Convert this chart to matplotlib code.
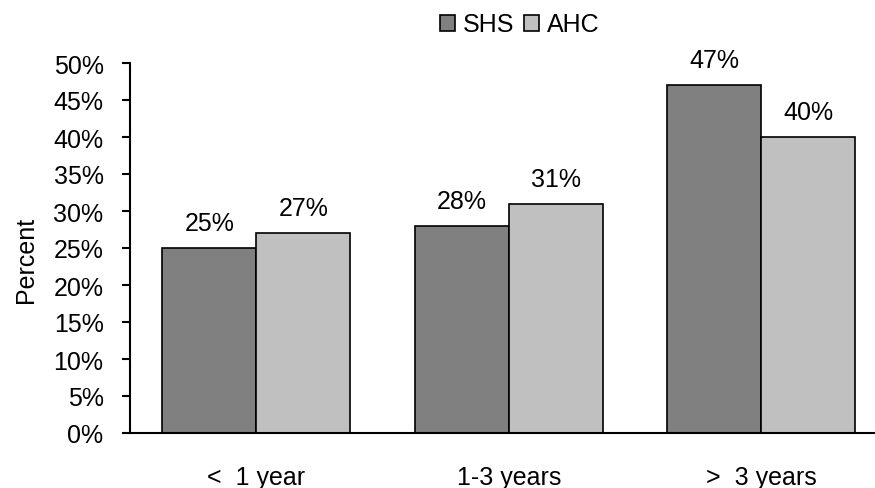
import matplotlib.pyplot as plt
import numpy as np
from matplotlib.patches import Patch

categories = ['<  1 year', '1-3 years', '>  3 years']
shs = [25, 28, 47]
ahc = [27, 31, 40]
series_names = ['SHS', 'AHC']
colors = ['#808080', '#c0c0c0']

plt.rcParams['font.family'] = ['Liberation Sans', 'DejaVu Sans']
plt.rcParams['font.size'] = 18

fig = plt.figure(figsize=(8.75, 4.89), dpi=100)
# оси: слева 130 px, справа до края, 0% на 434 px, 50% на 64 px
ax = fig.add_axes([130 / 875, 1 - 434 / 489, 745 / 875, 370 / 489])

x = np.arange(len(categories))
w = 0.372
for vals, off, col in [(shs, -w / 2, colors[0]), (ahc, w / 2, colors[1])]:
    bars = ax.bar(x + off, vals, width=w, color=col, edgecolor='black', linewidth=1.2)
    for b, v in zip(bars, vals):
        ax.annotate(f'{v}%', (b.get_x() + b.get_width() / 2, v), xytext=(0, 13),
                    textcoords='offset points', ha='center', va='baseline')

ax.set_xlim(-0.5, 2.45)
ax.set_ylim(0, 50)
ax.set_yticks(range(0, 51, 5))
ax.set_yticklabels([f'{t}%' for t in range(0, 51, 5)])
ax.set_xticks(x)
ax.set_xticklabels(categories)
ax.tick_params(axis='x', length=0, pad=23)
ax.tick_params(axis='y', length=6, width=1.5, pad=13)
for s in ['top', 'right']:
    ax.spines[s].set_visible(False)
for s in ['left', 'bottom']:
    ax.spines[s].set_linewidth(1.5)

ax.set_ylabel('Percent')
ax.yaxis.set_label_coords(-0.1235, 0.47)

handles = [Patch(facecolor=c, edgecolor='black', linewidth=1.2) for c in colors]
fig.legend(handles, series_names, loc='center', bbox_to_anchor=(520 / 875, 1 - 25.5 / 489),
           ncol=2, frameon=False, handlelength=0.6, handleheight=0.6,
           handletextpad=0.3, columnspacing=0.4)

fig.savefig('out.png', dpi=100)
